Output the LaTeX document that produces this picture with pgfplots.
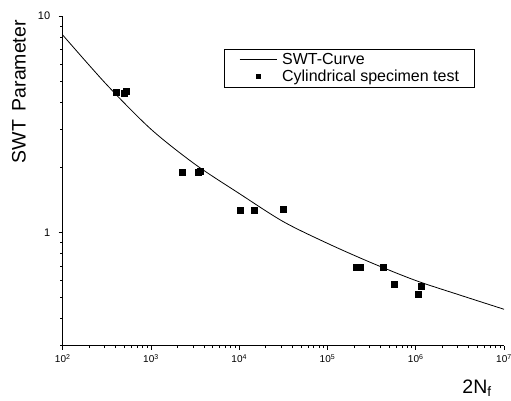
\documentclass[border=0pt]{standalone}
\usepackage{fontspec}
\setmainfont{Liberation Sans}
\usepackage{pgfplots}
\pgfplotsset{compat=1.18}
\pgfplotsset{
  swtline/.style={legend image code/.code={\draw[##1] (0pt,0pt) -- (37pt,0pt);}},
  swtmark/.style={legend image code/.code={\draw[##1, mark size=2.2pt] plot coordinates {(18.5pt,0pt)};}},
}
\begin{document}
\begin{tikzpicture}
\useasboundingbox (0pt,0pt) rectangle (511pt,401pt);
\begin{axis}[
  at={(62.7pt,55.3pt)}, anchor=south west,
  scale only axis, width=441.3pt, height=329.7pt,
  xmode=log, ymode=log,
  xmin=1e2, xmax=1e7, ymin=0.3, ymax=10,
  axis lines*=left,
  axis line style={line width=1.3pt},
  tick align=outside,
  major tick length=4pt, minor tick length=2.5pt,
  every tick/.style={black, line width=0.8pt},
  xtick={1e2,1e3,1e4,1e5,1e6,1e7},
  xticklabels={10\textsuperscript{2},10\textsuperscript{3},10\textsuperscript{4},10\textsuperscript{5},10\textsuperscript{6},10\textsuperscript{7}},
  minor xtick={200,300,400,500,600,700,800,900,2000,3000,4000,5000,6000,7000,8000,9000,
    20000,30000,40000,50000,60000,70000,80000,90000,2e5,3e5,4e5,5e5,6e5,7e5,8e5,9e5,
    2e6,3e6,4e6,5e6,6e6,7e6,8e6,9e6},
  ytick={1,10}, yticklabels={1,10},
  minor ytick={0.3,0.4,0.5,0.6,0.7,0.8,0.9,2,3,4,5,6,7,8,9},
  xticklabel style={font=\fontsize{10}{11}\selectfont, yshift=-1pt},
  yticklabel style={font=\fontsize{11}{12}\selectfont, xshift=-5pt},
  xlabel={2N\textsubscript{f}},
  xlabel style={font=\fontsize{19.5}{22}\selectfont, at={(axis description cs:0.939,-0.128)}, anchor=center},
  ylabel={SWT\hspace{0.45em}Parameter},
  ylabel style={font=\fontsize{19.5}{22}\selectfont, at={(axis description cs:-0.099,0.77)}, anchor=center},
  legend style={at={(axis description cs:0.3655,0.900)}, anchor=north west,
    draw=black, line width=0.6pt, font=\fontsize{16}{18}\selectfont,
    nodes={inner sep=0pt}, column sep=5pt, row sep=4pt,
    inner xsep=15pt, inner ysep=4pt},
  legend cell align=left,
]
\addplot[black, line width=0.8pt, smooth, swtline] coordinates {
  (100,8.17)(316.2,4.81)(1000,3.00)(3162,2.065)(10000,1.514)(31623,1.122)
  (1e5,0.891)(316228,0.724)(1e6,0.600)(3.162e6,0.514)(1e7,0.442)
};
\addlegendentry{SWT-Curve}
\addplot[only marks, mark=square*, mark size=3pt, black, swtmark] coordinates {
  (408,4.47)(500,4.42)(530,4.50)
  (2240,1.90)(3450,1.90)(3640,1.92)
  (10240,1.274)(14600,1.274)(31800,1.28)
  (210000,0.695)(235000,0.695)(424000,0.695)
  (564000,0.576)(1.055e6,0.518)(1.15e6,0.566)
};
\addlegendentry{Cylindrical specimen test}
\end{axis}
\end{tikzpicture}
\end{document}
